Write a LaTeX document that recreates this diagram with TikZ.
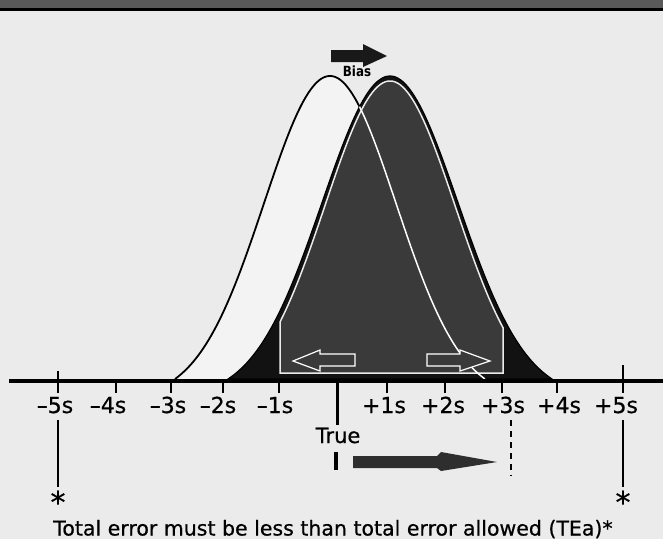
\documentclass[tikz,border=0pt]{standalone}
\usepackage{fontspec}
\setmainfont{DejaVu Sans}
\newfontfamily\labfont[FakeBold=0.6]{DejaVu Sans}
\newfontfamily\biasfont[FakeStretch=0.85]{DejaVu Sans}
\definecolor{bg}{HTML}{EBEBEB}
\definecolor{band}{HTML}{5A5A5A}
\definecolor{curvewhite}{HTML}{F3F3F3}
\definecolor{darkfill}{HTML}{3A3A3A}
\definecolor{tailfill}{HTML}{121212}
\definecolor{arrowgray}{HTML}{2E2E2E}
\begin{document}
\begin{tikzpicture}[x=1pt,y=-1pt,
  declare function={
    bw(\t)=303*(exp(-(\t/66)*(\t/66)/2)-0.0635)/0.9365;
    bd(\t)=303*(exp(-(\t/68)*(\t/68)/2)-0.0585)/0.9415;
    bi(\t)=298*(exp(-(\t/65)*(\t/65)/2)-0.0585)/0.9415;
  },
  ticklab/.style={font=\labfont\fontsize{22}{24}\selectfont, anchor=base, inner sep=0pt},
  tickline/.style={line width=2pt},
  axisline/.style={line width=4pt},
  guide/.style={line width=1.6pt},
  openarrow/.style={draw=white, line width=1.2pt, fill=darkfill, line join=miter},
  starlab/.style={font=\labfont\fontsize{30}{32}\selectfont, anchor=base, inner sep=0pt},
]
\useasboundingbox (0,0) rectangle (663,539);
% background and top band
\fill[bg] (0,0) rectangle (663,539);
\fill[band] (0,0) rectangle (663,8);
\fill[black] (0,8) rectangle (663,11);

% white (true) curve
\fill[curvewhite] plot[domain=-155:155,samples=121] ({330+\x},{379-bw(\x)}) -- cycle;
\draw[line width=1.8pt] plot[domain=-155:155,samples=121] ({330+\x},{379-bw(\x)});

% dark (biased) curve
\path[fill=tailfill, draw=black, line width=1.2pt]
  plot[domain=-162:162,samples=121] ({390+\x},{379-bd(\x)}) -- cycle;

% inner region between -1s and +3s
\draw[fill=darkfill, draw=white!92!black, line width=1.5pt]
  (280,373) -- plot[domain=-110:113,samples=90] ({390+\x},{379-bi(\x)}) -- (503,373) -- cycle;

% continuation of the white curve inside the dark curve
\begin{scope}
  \clip plot[domain=-162:162,samples=121] ({390+\x},{379-bd(\x)}) -- cycle;
  \draw[white, line width=1.5pt] plot[domain=0:155,samples=80] ({330+\x},{379-bw(\x)});
\end{scope}

% open arrows inside the dark region
\draw[openarrow] (355,354) -- (320,354) -- (320,350) -- (293,361) -- (320,371) -- (320,366) -- (355,366) -- cycle;
\draw[openarrow] (427,354) -- (460,354) -- (460,350) -- (490,361) -- (460,371) -- (460,366) -- (427,366) -- cycle;

% axis
\coordinate (axL) at (9,381);
\coordinate (axR) at (663,381);
\draw[axisline] (axL) -- (axR);

% ticks
\foreach \xx in {116,171,223,279,387,445,502,557}{
  \draw[tickline] (\xx,381) -- (\xx,393);
}
\coordinate (tm5top) at (58,371);
\coordinate (tm5bot) at (58,393);
\coordinate (tp5top) at (623,365);
\coordinate (tp5bot) at (623,393);
\draw[tickline] (tm5top) -- (tm5bot);
\draw[tickline] (tp5top) -- (tp5bot);
\coordinate (truetop) at (337,381);
\coordinate (truebot) at (337,425);
\draw[line width=3pt] (truetop) -- (truebot);

% tick labels
\node[ticklab] (lm5) at (55,413) {–5s};
\node[ticklab] (lm4) at (108,413) {–4s};
\node[ticklab] (lm3) at (168,413) {–3s};
\node[ticklab] (lm2) at (218,413) {–2s};
\node[ticklab] (lm1) at (275,413) {–1s};
\node[ticklab] (lp1) at (384,413) {+1s};
\node[ticklab] (lp2) at (443,413) {+2s};
\node[ticklab] (lp3) at (503,413) {+3s};
\node[ticklab] (lp4) at (559,413) {+4s};
\node[ticklab] (lp5) at (616,413) {+5s};
\node[font=\labfont\fontsize{21}{24}\selectfont, anchor=base, inner sep=0pt] (true) at (338,443) {True};

% bias arrow and label
\fill[black!90] (331,50) -- (363,50) -- (363,44) -- (387,56) -- (363,67) -- (363,62) -- (331,62) -- cycle;
\node[font=\biasfont\bfseries\fontsize{14}{16}\selectfont, anchor=base, inner sep=0pt] (bias) at (357,76) {Bias};

% bottom: true bar, error arrow, +3s dashed limit
\coordinate (bartop) at (336,452);
\coordinate (barbot) at (336,470);
\draw[line width=3.5pt] (bartop) -- (barbot);
\fill[arrowgray] (353,456) -- (437,456) -- (441,452) -- (497,462) -- (441,471) -- (437,468) -- (353,468) -- cycle;
\coordinate (dtop) at (511,420);
\coordinate (dbot) at (511,476);
\draw[line width=1.5pt, dash pattern=on 6pt off 5pt] (dtop) -- (dbot);

% allowed error limits
\coordinate (gm5top) at (58,420);
\coordinate (gm5bot) at (58,487);
\coordinate (gp5top) at (623,420);
\coordinate (gp5bot) at (623,487);
\draw[guide] (gm5top) -- (gm5bot);
\draw[guide] (gp5top) -- (gp5bot);
\node[starlab] (starL) at (58,513) {*};
\node[starlab] (starR) at (623,513) {*};

\node[font=\labfont\fontsize{20.5}{22}\selectfont, anchor=base, inner sep=0pt] (caption) at (333,535.5)
  {Total error must be less than total error allowed (TEa)*};
\end{tikzpicture}
\end{document}
